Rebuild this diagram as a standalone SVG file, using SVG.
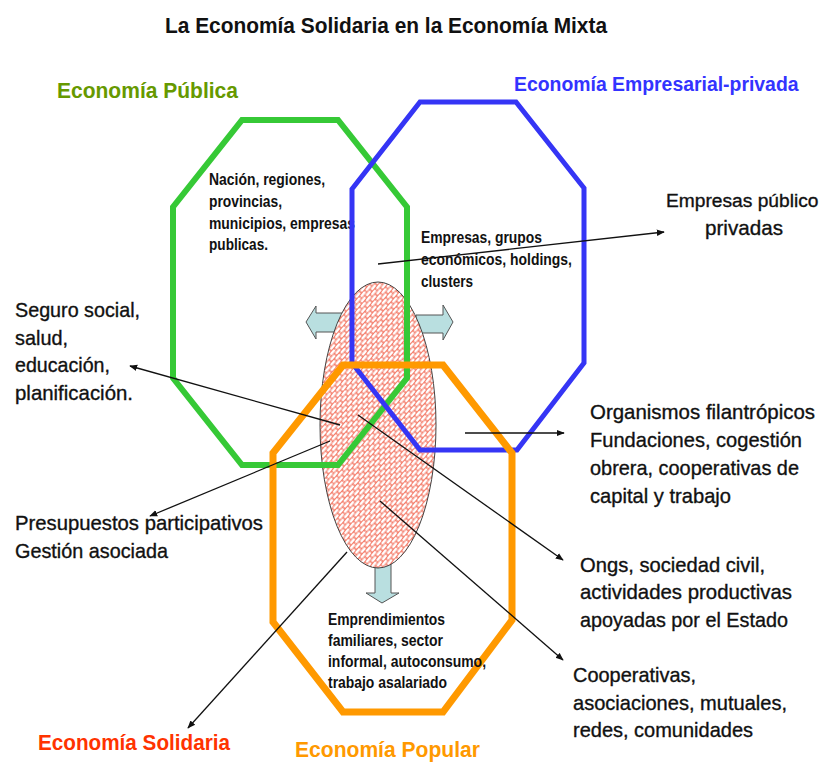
<svg xmlns="http://www.w3.org/2000/svg" width="830" height="763" viewBox="0 0 830 763">
<style>
.oct{fill:none;stroke-linejoin:miter}
.inner{font-family:"Liberation Sans",Arial,sans-serif;font-weight:bold;font-size:16px;fill:#111}
.lbl{font-family:"Liberation Sans",Arial,sans-serif;font-size:21px;fill:#111;stroke:#111;stroke-width:0.35}
.head{font-family:"Liberation Sans",Arial,sans-serif;font-weight:bold;font-size:22px}
.conn{stroke:#111;stroke-width:1.3;fill:none;marker-end:url(#ah)}
.barrow{fill:#b9dfe0;stroke:#555;stroke-width:1}
</style>
<defs>
<marker id="ah" viewBox="0 0 10 10" refX="9" refY="5" markerWidth="8" markerHeight="8" markerUnits="userSpaceOnUse" orient="auto">
<path d="M0,1 L10,5 L0,9 Z" fill="#111"/>
</marker>
<pattern id="weave" width="8" height="7" patternUnits="userSpaceOnUse" patternTransform="rotate(-50)">
<rect width="8" height="7" fill="#f47e6c"/>
<rect x="0.6" y="0.4" width="6.8" height="2.7" rx="1.35" fill="#fff"/>
<rect x="4.6" y="3.9" width="6.8" height="2.7" rx="1.35" fill="#fff"/>
<rect x="-3.4" y="3.9" width="6.8" height="2.7" rx="1.35" fill="#fff"/>
</pattern>
</defs>
<rect width="830" height="763" fill="#fff"/>

<text class="head" x="165" y="33" textLength="442" lengthAdjust="spacingAndGlyphs" fill="#111">La Economía Solidaria en la Economía Mixta</text>

<g id="block-arrows">
<polygon class="barrow" points="306,322 316,306 316,313 342,313 342,332 316,332 316,339"/>
<polygon class="barrow" points="453,322 443,305 443,315 416,315 416,333 443,333 443,340"/>
<polygon class="barrow" points="375,560 391,560 391,593 399,593 382,603 366,593 375,593"/>
</g>

<g id="solidaria-core">
<ellipse cx="378" cy="425" rx="58" ry="143" fill="url(#weave)" stroke="#444" stroke-width="1"/>
</g>

<g id="publica">
<polygon class="oct" stroke="#36c936" stroke-width="6" points="242,120 338,120 407,207 407,378 338,465 242,465 173,378 173,207"/>
<text class="head" x="57" y="98" textLength="181" lengthAdjust="spacingAndGlyphs" fill="#669900">Economía Pública</text>
<text class="inner" x="209" y="185" textLength="116" lengthAdjust="spacingAndGlyphs">Nación, regiones,</text>
<text class="inner" x="209" y="207" textLength="73" lengthAdjust="spacingAndGlyphs">provincias,</text>
<text class="inner" x="209" y="229" textLength="146" lengthAdjust="spacingAndGlyphs">municipios, empresas</text>
<text class="inner" x="209" y="250" textLength="59" lengthAdjust="spacingAndGlyphs">publicas.</text>
</g>

<g id="empresarial">
<polygon class="oct" stroke="#3535f5" stroke-width="5" points="420,102 516,102 584,188 584,363 517,450 420,450 352,363 352,189"/>
<text class="head" x="514" y="91" style="font-size:19.4px" fill="#3333ff">Economía Empresarial-privada</text>
<text class="inner" x="421" y="243" textLength="121" lengthAdjust="spacingAndGlyphs">Empresas, grupos</text>
<text class="inner" x="421" y="265" textLength="151" lengthAdjust="spacingAndGlyphs">económicos, holdings,</text>
<text class="inner" x="421" y="287" textLength="52" lengthAdjust="spacingAndGlyphs">clusters</text>
</g>

<g id="popular">
<polygon class="oct" stroke="#ff9900" stroke-width="7" points="343,365 443,365 512,453 512,620 443,712 343,712 273,622 273,453"/>
<text class="head" x="295" y="757" textLength="185" lengthAdjust="spacingAndGlyphs" fill="#ff9900">Economía Popular</text>
<text class="inner" x="328" y="625" textLength="117" lengthAdjust="spacingAndGlyphs">Emprendimientos</text>
<text class="inner" x="328" y="646" textLength="115" lengthAdjust="spacingAndGlyphs">familiares, sector</text>
<text class="inner" x="328" y="667" textLength="158" lengthAdjust="spacingAndGlyphs">informal, autoconsumo,</text>
<text class="inner" x="328" y="688" textLength="119" lengthAdjust="spacingAndGlyphs">trabajo asalariado</text>
</g>

<g id="connectors">
<line class="conn" x1="378" y1="264" x2="664" y2="232"/>
<line class="conn" x1="340" y1="425" x2="130" y2="366"/>
<line class="conn" x1="330" y1="441" x2="150" y2="516"/>
<line class="conn" x1="358" y1="415" x2="563" y2="560"/>
<line class="conn" x1="380" y1="501" x2="563" y2="660"/>
<line class="conn" x1="465" y1="433" x2="564" y2="433"/>
<line class="conn" x1="347" y1="552" x2="188" y2="728"/>
</g>

<g id="empresas-publico-privadas">
<text class="lbl" x="666" y="207" style="font-size:19.2px">Empresas público</text>
<text class="lbl" x="744" y="235" text-anchor="middle" textLength="78" lengthAdjust="spacingAndGlyphs">privadas</text>
</g>

<g id="organismos">
<text class="lbl" x="590" y="419" textLength="225" lengthAdjust="spacingAndGlyphs">Organismos filantrópicos</text>
<text class="lbl" x="590" y="447" textLength="212" lengthAdjust="spacingAndGlyphs">Fundaciones, cogestión</text>
<text class="lbl" x="590" y="475" textLength="209" lengthAdjust="spacingAndGlyphs">obrera, cooperativas de</text>
<text class="lbl" x="590" y="503" textLength="141" lengthAdjust="spacingAndGlyphs">capital y trabajo</text>
</g>

<g id="ongs">
<text class="lbl" x="580" y="572" textLength="185" lengthAdjust="spacingAndGlyphs">Ongs, sociedad civil,</text>
<text class="lbl" x="580" y="599" textLength="212" lengthAdjust="spacingAndGlyphs">actividades productivas</text>
<text class="lbl" x="580" y="627" textLength="208" lengthAdjust="spacingAndGlyphs">apoyadas por el Estado</text>
</g>

<g id="cooperativas">
<text class="lbl" x="573" y="682" textLength="123" lengthAdjust="spacingAndGlyphs">Cooperativas,</text>
<text class="lbl" x="573" y="710" textLength="214" lengthAdjust="spacingAndGlyphs">asociaciones, mutuales,</text>
<text class="lbl" x="573" y="737" textLength="180" lengthAdjust="spacingAndGlyphs">redes, comunidades</text>
</g>

<g id="seguro-social">
<text class="lbl" x="15" y="317" textLength="125" lengthAdjust="spacingAndGlyphs">Seguro social,</text>
<text class="lbl" x="15" y="345" textLength="53" lengthAdjust="spacingAndGlyphs">salud,</text>
<text class="lbl" x="15" y="372" textLength="95" lengthAdjust="spacingAndGlyphs">educación,</text>
<text class="lbl" x="15" y="400" textLength="118" lengthAdjust="spacingAndGlyphs">planificación.</text>
</g>

<g id="presupuestos">
<text class="lbl" x="15" y="530" textLength="248" lengthAdjust="spacingAndGlyphs">Presupuestos participativos</text>
<text class="lbl" x="15" y="558" textLength="153" lengthAdjust="spacingAndGlyphs">Gestión asociada</text>
</g>

<g id="solidaria">
<text class="head" x="38" y="750" textLength="192" lengthAdjust="spacingAndGlyphs" fill="#ff3300">Economía Solidaria</text>
</g>
</svg>
